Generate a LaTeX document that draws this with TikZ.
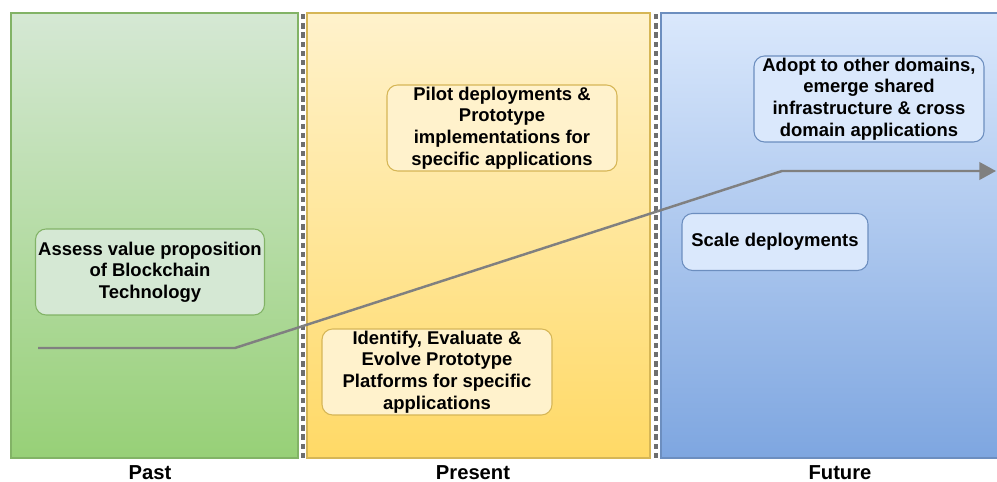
\documentclass[tikz,border=0pt]{standalone}
\usepackage{fontspec}
\setmainfont{Liberation Sans}
\usepackage[RGB]{xcolor}
\usetikzlibrary{arrows.meta}
\definecolor{pastTop}{RGB}{213,232,212}
\definecolor{pastBot}{RGB}{151,208,119}
\definecolor{pastLine}{RGB}{130,179,102}
\definecolor{presTop}{RGB}{255,242,204}
\definecolor{presBot}{RGB}{255,217,102}
\definecolor{presLine}{RGB}{214,182,86}
\definecolor{futTop}{RGB}{218,232,252}
\definecolor{futBot}{RGB}{126,166,224}
\definecolor{futLine}{RGB}{108,142,191}
\definecolor{trend}{RGB}{128,128,128}
\definecolor{sep}{RGB}{110,110,110}
\newcommand{\drawsep}[1]{
    \draw[sep, line width=1.9pt, dash pattern=on 3pt off 2.2pt] (#1,0.48)--(#1,9.38);
}
\tikzset{
  stagebox/.style={draw, rounded corners=6pt, line width=0.6pt, align=center,
    font=\fontsize{10.5}{12.3}\selectfont\bfseries, inner sep=0pt},
  stagelabel/.style={font=\fontsize{11.5}{13}\selectfont\bfseries}
}
\begin{document}
\begin{tikzpicture}
\useasboundingbox (0,0) rectangle (19.94,9.64);
% panels
\shade[top color=pastTop, bottom color=pastBot, draw=pastLine, line width=0.6pt] (0.22,0.48) rectangle (5.96,9.38);
\shade[top color=presTop, bottom color=presBot, draw=presLine, line width=0.6pt] (6.14,0.48) rectangle (13.0,9.38);
\shade[top color=futTop, bottom color=futBot, draw=futLine, line width=0.6pt] (13.22,0.48) rectangle (20.2,9.38);
\drawsep{6.06}\drawsep{13.12}
% boxes
\node[stagebox, fill=pastTop, draw=pastLine, minimum width=4.58cm, minimum height=1.72cm] (assess) at (3.0,4.2)
  {Assess value proposition\\of Blockchain\\Technology};
\node[stagebox, fill=presTop, draw=presLine, minimum width=4.6cm, minimum height=1.72cm] (pilot) at (10.04,7.08)
  {Pilot deployments \&\\Prototype\\implementations for\\specific applications};
\node[stagebox, fill=presTop, draw=presLine, minimum width=4.6cm, minimum height=1.72cm] (identify) at (8.74,2.2)
  {Identify, Evaluate \&\\Evolve Prototype\\Platforms for specific\\applications};
\node[stagebox, fill=futTop, draw=futLine, minimum width=3.72cm, minimum height=1.14cm] (scale) at (15.5,4.8)
  {Scale deployments};
\node[stagebox, fill=futTop, draw=futLine, minimum width=4.6cm, minimum height=1.72cm] (adopt) at (17.38,7.66)
  {Adopt to other domains,\\emerge shared\\infrastructure \& cross\\domain applications};
% trend line
\coordinate (start) at (0.76,2.68);
\coordinate (bendA) at (4.7,2.68);
\coordinate (bendB) at (15.64,6.22);
\coordinate (end) at (19.92,6.22);
\draw[trend, line width=1.4pt, -{Triangle[length=9.5pt, width=10pt]}] (start)--(bendA)--(bendB)--(end);
% labels
\node[stagelabel] (past) at (3.0,0.18) {Past};
\node[stagelabel] (present) at (9.46,0.18) {Present};
\node[stagelabel] (future) at (16.8,0.18) {Future};
\end{tikzpicture}
\end{document}
